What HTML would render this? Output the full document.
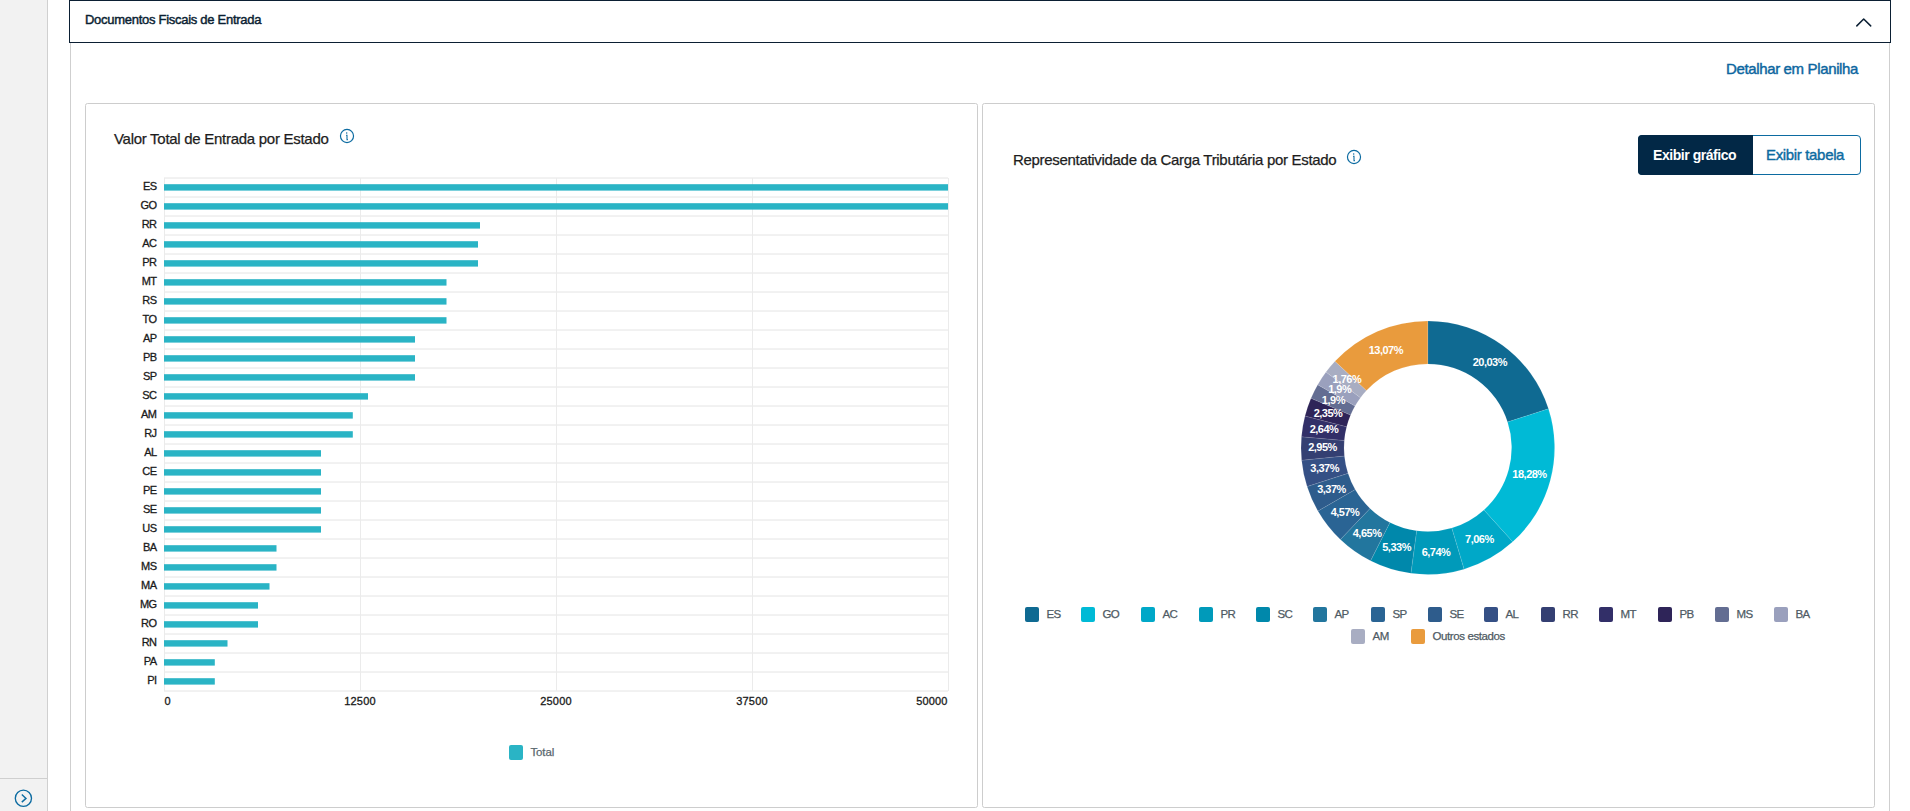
<!DOCTYPE html>
<html><head><meta charset="utf-8"><title>Documentos Fiscais de Entrada</title>
<style>
html,body{margin:0;padding:0;}
body{width:1910px;height:811px;overflow:hidden;position:relative;background:#fff;font-family:'Liberation Sans',sans-serif;}
.a{position:absolute;}
.t{position:absolute;white-space:nowrap;line-height:1;}
</style></head><body>

<div class="a" style="left:0;top:0;width:47px;height:811px;background:#f2f2f2;border-right:1px solid #d0d0d0;"></div>
<div class="a" style="left:0;top:778px;width:47px;height:1px;background:#cfcfcf;"></div>
<svg class="a" style="left:13px;top:788px;" width="21" height="21" viewBox="0 0 21 21"><circle cx="10.4" cy="10.3" r="8.1" fill="none" stroke="#0c6ba1" stroke-width="1.35"/><path d="M8.8 6.5 L13 10.4 L8.8 14.1" fill="none" stroke="#0c6ba1" stroke-width="1.4"/></svg>
<div class="a" style="left:70px;top:43px;width:1px;height:768px;background:#cfcfcf;"></div>
<div class="a" style="left:1889px;top:43px;width:1px;height:768px;background:#cfcfcf;"></div>
<div class="a" style="left:69px;top:0;width:1822px;height:43px;box-sizing:border-box;border:1px solid #0b1f33;background:#fff;"></div>
<div class="t" style="left:85px;top:13px;font-size:13px;color:#0b1f33;letter-spacing:-0.28px;-webkit-text-stroke-width:0.45px;">Documentos Fiscais de Entrada</div>
<svg class="a" style="left:1854.7px;top:16.5px;" width="19" height="12" viewBox="0 0 19 12"><path d="M1.8 8.9 L8.7 2.0 L15.7 8.9" fill="none" stroke="#0b1f33" stroke-width="1.5" stroke-linecap="round" stroke-linejoin="round"/></svg>
<div class="t" style="left:1726px;top:61px;font-size:15px;color:#0b66a0;letter-spacing:-0.36px;-webkit-text-stroke-width:0.42px;">Detalhar em Planilha</div>
<div class="a" style="left:85px;top:103px;width:893px;height:705px;box-sizing:border-box;border:1px solid #cdcdcd;border-radius:2.5px;"></div>
<div class="a" style="left:982px;top:103px;width:893px;height:705px;box-sizing:border-box;border:1px solid #cdcdcd;border-radius:2.5px;"></div>
<div class="t" style="left:114px;top:131px;font-size:15px;color:#1d1d1d;letter-spacing:-0.28px;-webkit-text-stroke-width:0.25px;">Valor Total de Entrada por Estado</div>
<svg class="a" style="left:338px;top:127.3px;" width="18" height="18" viewBox="0 0 18 18"><circle cx="9" cy="9" r="6.55" fill="none" stroke="#0c6ba1" stroke-width="1.2"/><circle cx="8.7" cy="6.0" r="0.75" fill="#0c6ba1"/><path d="M8.0 8.2 H9.0 V12.6 H9.9" fill="none" stroke="#0c6ba1" stroke-width="1.05"/></svg>
<svg class="a" style="left:0;top:0;" width="1910" height="811"><line x1="164" y1="178" x2="948" y2="178" stroke="#e4e4e4" stroke-width="1"/><line x1="164" y1="197" x2="948" y2="197" stroke="#e4e4e4" stroke-width="1"/><line x1="164" y1="216" x2="948" y2="216" stroke="#e4e4e4" stroke-width="1"/><line x1="164" y1="235" x2="948" y2="235" stroke="#e4e4e4" stroke-width="1"/><line x1="164" y1="254" x2="948" y2="254" stroke="#e4e4e4" stroke-width="1"/><line x1="164" y1="273" x2="948" y2="273" stroke="#e4e4e4" stroke-width="1"/><line x1="164" y1="292" x2="948" y2="292" stroke="#e4e4e4" stroke-width="1"/><line x1="164" y1="311" x2="948" y2="311" stroke="#e4e4e4" stroke-width="1"/><line x1="164" y1="330" x2="948" y2="330" stroke="#e4e4e4" stroke-width="1"/><line x1="164" y1="349" x2="948" y2="349" stroke="#e4e4e4" stroke-width="1"/><line x1="164" y1="368" x2="948" y2="368" stroke="#e4e4e4" stroke-width="1"/><line x1="164" y1="387" x2="948" y2="387" stroke="#e4e4e4" stroke-width="1"/><line x1="164" y1="406" x2="948" y2="406" stroke="#e4e4e4" stroke-width="1"/><line x1="164" y1="425" x2="948" y2="425" stroke="#e4e4e4" stroke-width="1"/><line x1="164" y1="444" x2="948" y2="444" stroke="#e4e4e4" stroke-width="1"/><line x1="164" y1="463" x2="948" y2="463" stroke="#e4e4e4" stroke-width="1"/><line x1="164" y1="482" x2="948" y2="482" stroke="#e4e4e4" stroke-width="1"/><line x1="164" y1="501" x2="948" y2="501" stroke="#e4e4e4" stroke-width="1"/><line x1="164" y1="520" x2="948" y2="520" stroke="#e4e4e4" stroke-width="1"/><line x1="164" y1="539" x2="948" y2="539" stroke="#e4e4e4" stroke-width="1"/><line x1="164" y1="558" x2="948" y2="558" stroke="#e4e4e4" stroke-width="1"/><line x1="164" y1="577" x2="948" y2="577" stroke="#e4e4e4" stroke-width="1"/><line x1="164" y1="596" x2="948" y2="596" stroke="#e4e4e4" stroke-width="1"/><line x1="164" y1="615" x2="948" y2="615" stroke="#e4e4e4" stroke-width="1"/><line x1="164" y1="634" x2="948" y2="634" stroke="#e4e4e4" stroke-width="1"/><line x1="164" y1="653" x2="948" y2="653" stroke="#e4e4e4" stroke-width="1"/><line x1="164" y1="672" x2="948" y2="672" stroke="#e4e4e4" stroke-width="1"/><line x1="164" y1="691" x2="948" y2="691" stroke="#e4e4e4" stroke-width="1"/><line x1="164.5" y1="178" x2="164.5" y2="691" stroke="#ebebeb" stroke-width="1"/><line x1="360.5" y1="178" x2="360.5" y2="691" stroke="#ebebeb" stroke-width="1"/><line x1="556.5" y1="178" x2="556.5" y2="691" stroke="#ebebeb" stroke-width="1"/><line x1="752.5" y1="178" x2="752.5" y2="691" stroke="#ebebeb" stroke-width="1"/><line x1="948.5" y1="178" x2="948.5" y2="691" stroke="#ebebeb" stroke-width="1"/><rect x="164" y="184.2" width="784" height="6.4" fill="#2ab4c5"/><rect x="164" y="203.2" width="784" height="6.4" fill="#2ab4c5"/><rect x="164" y="222.2" width="316" height="6.4" fill="#2ab4c5"/><rect x="164" y="241.2" width="314" height="6.4" fill="#2ab4c5"/><rect x="164" y="260.2" width="314" height="6.4" fill="#2ab4c5"/><rect x="164" y="279.2" width="282.5" height="6.4" fill="#2ab4c5"/><rect x="164" y="298.2" width="282.5" height="6.4" fill="#2ab4c5"/><rect x="164" y="317.2" width="282.5" height="6.4" fill="#2ab4c5"/><rect x="164" y="336.2" width="251" height="6.4" fill="#2ab4c5"/><rect x="164" y="355.2" width="251" height="6.4" fill="#2ab4c5"/><rect x="164" y="374.2" width="251" height="6.4" fill="#2ab4c5"/><rect x="164" y="393.2" width="204" height="6.4" fill="#2ab4c5"/><rect x="164" y="412.2" width="188.8" height="6.4" fill="#2ab4c5"/><rect x="164" y="431.2" width="188.8" height="6.4" fill="#2ab4c5"/><rect x="164" y="450.2" width="157" height="6.4" fill="#2ab4c5"/><rect x="164" y="469.2" width="157" height="6.4" fill="#2ab4c5"/><rect x="164" y="488.2" width="157" height="6.4" fill="#2ab4c5"/><rect x="164" y="507.2" width="157" height="6.4" fill="#2ab4c5"/><rect x="164" y="526.2" width="157" height="6.4" fill="#2ab4c5"/><rect x="164" y="545.2" width="112.5" height="6.4" fill="#2ab4c5"/><rect x="164" y="564.2" width="112.5" height="6.4" fill="#2ab4c5"/><rect x="164" y="583.2" width="105.5" height="6.4" fill="#2ab4c5"/><rect x="164" y="602.2" width="94" height="6.4" fill="#2ab4c5"/><rect x="164" y="621.2" width="94" height="6.4" fill="#2ab4c5"/><rect x="164" y="640.2" width="63.5" height="6.4" fill="#2ab4c5"/><rect x="164" y="659.2" width="50.8" height="6.4" fill="#2ab4c5"/><rect x="164" y="678.2" width="50.8" height="6.4" fill="#2ab4c5"/></svg>
<div class="t" style="right:1753.6px;top:181.0px;font-size:11px;color:#1a1a1a;-webkit-text-stroke-width:0.3px;letter-spacing:-0.6px;">ES</div>
<div class="t" style="right:1753.6px;top:200.0px;font-size:11px;color:#1a1a1a;-webkit-text-stroke-width:0.3px;letter-spacing:-0.6px;">GO</div>
<div class="t" style="right:1753.6px;top:219.0px;font-size:11px;color:#1a1a1a;-webkit-text-stroke-width:0.3px;letter-spacing:-0.6px;">RR</div>
<div class="t" style="right:1753.6px;top:238.0px;font-size:11px;color:#1a1a1a;-webkit-text-stroke-width:0.3px;letter-spacing:-0.6px;">AC</div>
<div class="t" style="right:1753.6px;top:257.0px;font-size:11px;color:#1a1a1a;-webkit-text-stroke-width:0.3px;letter-spacing:-0.6px;">PR</div>
<div class="t" style="right:1753.6px;top:276.0px;font-size:11px;color:#1a1a1a;-webkit-text-stroke-width:0.3px;letter-spacing:-0.6px;">MT</div>
<div class="t" style="right:1753.6px;top:295.0px;font-size:11px;color:#1a1a1a;-webkit-text-stroke-width:0.3px;letter-spacing:-0.6px;">RS</div>
<div class="t" style="right:1753.6px;top:314.0px;font-size:11px;color:#1a1a1a;-webkit-text-stroke-width:0.3px;letter-spacing:-0.6px;">TO</div>
<div class="t" style="right:1753.6px;top:333.0px;font-size:11px;color:#1a1a1a;-webkit-text-stroke-width:0.3px;letter-spacing:-0.6px;">AP</div>
<div class="t" style="right:1753.6px;top:352.0px;font-size:11px;color:#1a1a1a;-webkit-text-stroke-width:0.3px;letter-spacing:-0.6px;">PB</div>
<div class="t" style="right:1753.6px;top:371.0px;font-size:11px;color:#1a1a1a;-webkit-text-stroke-width:0.3px;letter-spacing:-0.6px;">SP</div>
<div class="t" style="right:1753.6px;top:390.0px;font-size:11px;color:#1a1a1a;-webkit-text-stroke-width:0.3px;letter-spacing:-0.6px;">SC</div>
<div class="t" style="right:1753.6px;top:409.0px;font-size:11px;color:#1a1a1a;-webkit-text-stroke-width:0.3px;letter-spacing:-0.6px;">AM</div>
<div class="t" style="right:1753.6px;top:428.0px;font-size:11px;color:#1a1a1a;-webkit-text-stroke-width:0.3px;letter-spacing:-0.6px;">RJ</div>
<div class="t" style="right:1753.6px;top:447.0px;font-size:11px;color:#1a1a1a;-webkit-text-stroke-width:0.3px;letter-spacing:-0.6px;">AL</div>
<div class="t" style="right:1753.6px;top:466.0px;font-size:11px;color:#1a1a1a;-webkit-text-stroke-width:0.3px;letter-spacing:-0.6px;">CE</div>
<div class="t" style="right:1753.6px;top:485.0px;font-size:11px;color:#1a1a1a;-webkit-text-stroke-width:0.3px;letter-spacing:-0.6px;">PE</div>
<div class="t" style="right:1753.6px;top:504.0px;font-size:11px;color:#1a1a1a;-webkit-text-stroke-width:0.3px;letter-spacing:-0.6px;">SE</div>
<div class="t" style="right:1753.6px;top:523.0px;font-size:11px;color:#1a1a1a;-webkit-text-stroke-width:0.3px;letter-spacing:-0.6px;">US</div>
<div class="t" style="right:1753.6px;top:542.0px;font-size:11px;color:#1a1a1a;-webkit-text-stroke-width:0.3px;letter-spacing:-0.6px;">BA</div>
<div class="t" style="right:1753.6px;top:561.0px;font-size:11px;color:#1a1a1a;-webkit-text-stroke-width:0.3px;letter-spacing:-0.6px;">MS</div>
<div class="t" style="right:1753.6px;top:580.0px;font-size:11px;color:#1a1a1a;-webkit-text-stroke-width:0.3px;letter-spacing:-0.6px;">MA</div>
<div class="t" style="right:1753.6px;top:599.0px;font-size:11px;color:#1a1a1a;-webkit-text-stroke-width:0.3px;letter-spacing:-0.6px;">MG</div>
<div class="t" style="right:1753.6px;top:618.0px;font-size:11px;color:#1a1a1a;-webkit-text-stroke-width:0.3px;letter-spacing:-0.6px;">RO</div>
<div class="t" style="right:1753.6px;top:637.0px;font-size:11px;color:#1a1a1a;-webkit-text-stroke-width:0.3px;letter-spacing:-0.6px;">RN</div>
<div class="t" style="right:1753.6px;top:656.0px;font-size:11px;color:#1a1a1a;-webkit-text-stroke-width:0.3px;letter-spacing:-0.6px;">PA</div>
<div class="t" style="right:1753.6px;top:675.0px;font-size:11px;color:#1a1a1a;-webkit-text-stroke-width:0.3px;letter-spacing:-0.6px;">PI</div>
<div class="t" style="left:164.6px;top:696px;font-size:11px;color:#1a1a1a;-webkit-text-stroke-width:0.3px;letter-spacing:0.15px;">0</div>
<div class="t" style="left:320px;width:80px;text-align:center;top:696px;font-size:11px;color:#1a1a1a;-webkit-text-stroke-width:0.3px;letter-spacing:0.15px;">12500</div>
<div class="t" style="left:516px;width:80px;text-align:center;top:696px;font-size:11px;color:#1a1a1a;-webkit-text-stroke-width:0.3px;letter-spacing:0.15px;">25000</div>
<div class="t" style="left:712px;width:80px;text-align:center;top:696px;font-size:11px;color:#1a1a1a;-webkit-text-stroke-width:0.3px;letter-spacing:0.15px;">37500</div>
<div class="t" style="right:962.5px;top:696px;font-size:11px;color:#1a1a1a;-webkit-text-stroke-width:0.3px;letter-spacing:0.15px;">50000</div>
<div class="a" style="left:509px;top:745px;width:14px;height:15px;background:#2ab4c5;border-radius:2px;"></div>
<div class="t" style="left:530.5px;top:747.2px;font-size:11.5px;color:#5a676e;letter-spacing:-0.15px;-webkit-text-stroke-width:0.25px;">Total</div>
<div class="t" style="left:1013px;top:152px;font-size:15px;color:#1d1d1d;letter-spacing:-0.31px;-webkit-text-stroke-width:0.25px;">Representatividade da Carga Tributária por Estado</div>
<svg class="a" style="left:1345px;top:148.3px;" width="18" height="18" viewBox="0 0 18 18"><circle cx="9" cy="9" r="6.55" fill="none" stroke="#0c6ba1" stroke-width="1.2"/><circle cx="8.7" cy="6.0" r="0.75" fill="#0c6ba1"/><path d="M8.0 8.2 H9.0 V12.6 H9.9" fill="none" stroke="#0c6ba1" stroke-width="1.05"/></svg>
<div class="a" style="left:1638px;top:135px;width:223px;height:40px;box-sizing:border-box;border:1px solid #0c6ba1;border-radius:4px;background:#fff;"></div>
<div class="a" style="left:1638px;top:135px;width:115px;height:40px;background:#022846;border-radius:4px 0 0 4px;"></div>
<div class="t" style="left:1653px;top:147.7px;font-size:14px;color:#fff;font-weight:bold;letter-spacing:-0.45px;">Exibir gráfico</div>
<div class="t" style="left:1766px;top:147px;font-size:15px;color:#0c6ba1;letter-spacing:-0.34px;-webkit-text-stroke-width:0.4px;">Exibir tabela</div>
<svg class="a" style="left:0;top:0;" width="1910" height="811"><path d="M1427.80 320.90 A126.8 126.8 0 0 1 1548.48 408.79 L1507.56 421.98 A83.8 83.8 0 0 0 1427.80 363.90Z" fill="#0f6a92" stroke="rgba(255,255,255,0.2)" stroke-width="0.5"/><path d="M1548.48 408.79 A126.8 126.8 0 0 1 1512.72 541.87 L1483.92 509.93 A83.8 83.8 0 0 0 1507.56 421.98Z" fill="#00bad6" stroke="rgba(255,255,255,0.2)" stroke-width="0.5"/><path d="M1512.72 541.87 A126.8 126.8 0 0 1 1464.07 569.20 L1451.77 528.00 A83.8 83.8 0 0 0 1483.92 509.93Z" fill="#00a8c8" stroke="rgba(255,255,255,0.2)" stroke-width="0.5"/><path d="M1464.07 569.20 A126.8 126.8 0 0 1 1410.92 573.37 L1416.64 530.75 A83.8 83.8 0 0 0 1451.77 528.00Z" fill="#009aba" stroke="rgba(255,255,255,0.2)" stroke-width="0.5"/><path d="M1410.92 573.37 A126.8 126.8 0 0 1 1370.54 560.83 L1389.96 522.47 A83.8 83.8 0 0 0 1416.64 530.75Z" fill="#0088ab" stroke="rgba(255,255,255,0.2)" stroke-width="0.5"/><path d="M1370.54 560.83 A126.8 126.8 0 0 1 1340.37 539.54 L1370.02 508.39 A83.8 83.8 0 0 0 1389.96 522.47Z" fill="#22769e" stroke="rgba(255,255,255,0.2)" stroke-width="0.5"/><path d="M1340.37 539.54 A126.8 126.8 0 0 1 1317.93 511.01 L1355.19 489.54 A83.8 83.8 0 0 0 1370.02 508.39Z" fill="#2a6494" stroke="rgba(255,255,255,0.2)" stroke-width="0.5"/><path d="M1317.93 511.01 A126.8 126.8 0 0 1 1307.08 486.50 L1348.02 473.34 A83.8 83.8 0 0 0 1355.19 489.54Z" fill="#2e5c8c" stroke="rgba(255,255,255,0.2)" stroke-width="0.5"/><path d="M1307.08 486.50 A126.8 126.8 0 0 1 1301.62 460.25 L1344.41 455.99 A83.8 83.8 0 0 0 1348.02 473.34Z" fill="#355085" stroke="rgba(255,255,255,0.2)" stroke-width="0.5"/><path d="M1301.62 460.25 A126.8 126.8 0 0 1 1301.47 436.78 L1344.31 440.48 A83.8 83.8 0 0 0 1344.41 455.99Z" fill="#343f72" stroke="rgba(255,255,255,0.2)" stroke-width="0.5"/><path d="M1301.47 436.78 A126.8 126.8 0 0 1 1305.01 416.06 L1346.65 426.79 A83.8 83.8 0 0 0 1344.31 440.48Z" fill="#322f68" stroke="rgba(255,255,255,0.2)" stroke-width="0.5"/><path d="M1305.01 416.06 A126.8 126.8 0 0 1 1311.00 398.33 L1350.61 415.08 A83.8 83.8 0 0 0 1346.65 426.79Z" fill="#2e2458" stroke="rgba(255,255,255,0.2)" stroke-width="0.5"/><path d="M1311.00 398.33 A126.8 126.8 0 0 1 1317.72 384.77 L1355.05 406.11 A83.8 83.8 0 0 0 1350.61 415.08Z" fill="#636d92" stroke="rgba(255,255,255,0.2)" stroke-width="0.5"/><path d="M1317.72 384.77 A126.8 126.8 0 0 1 1326.00 372.11 L1360.52 397.74 A83.8 83.8 0 0 0 1355.05 406.11Z" fill="#9aa0bd" stroke="rgba(255,255,255,0.2)" stroke-width="0.5"/><path d="M1326.00 372.11 A126.8 126.8 0 0 1 1334.96 361.33 L1366.45 390.62 A83.8 83.8 0 0 0 1360.52 397.74Z" fill="#a8adc2" stroke="rgba(255,255,255,0.2)" stroke-width="0.5"/><path d="M1334.96 361.33 A126.8 126.8 0 0 1 1427.80 320.90 L1427.80 363.90 A83.8 83.8 0 0 0 1366.45 390.62Z" fill="#e99b3d" stroke="rgba(255,255,255,0.2)" stroke-width="0.5"/></svg>
<div class="t" style="left:1459.8px;width:60px;text-align:center;top:356.6px;font-size:11px;color:#fff;font-weight:bold;letter-spacing:-0.5px;">20,03%</div>
<div class="t" style="left:1499.5px;width:60px;text-align:center;top:469.0px;font-size:11px;color:#fff;font-weight:bold;letter-spacing:-0.5px;">18,28%</div>
<div class="t" style="left:1449.4px;width:60px;text-align:center;top:533.5px;font-size:11px;color:#fff;font-weight:bold;letter-spacing:-0.5px;">7,06%</div>
<div class="t" style="left:1406.0px;width:60px;text-align:center;top:546.7px;font-size:11px;color:#fff;font-weight:bold;letter-spacing:-0.5px;">6,74%</div>
<div class="t" style="left:1366.6px;width:60px;text-align:center;top:542.3px;font-size:11px;color:#fff;font-weight:bold;letter-spacing:-0.5px;">5,33%</div>
<div class="t" style="left:1337.1px;width:60px;text-align:center;top:527.7px;font-size:11px;color:#fff;font-weight:bold;letter-spacing:-0.5px;">4,65%</div>
<div class="t" style="left:1315.0px;width:60px;text-align:center;top:506.8px;font-size:11px;color:#fff;font-weight:bold;letter-spacing:-0.5px;">4,57%</div>
<div class="t" style="left:1301.5px;width:60px;text-align:center;top:484.3px;font-size:11px;color:#fff;font-weight:bold;letter-spacing:-0.5px;">3,37%</div>
<div class="t" style="left:1294.7px;width:60px;text-align:center;top:463.1px;font-size:11px;color:#fff;font-weight:bold;letter-spacing:-0.5px;">3,37%</div>
<div class="t" style="left:1292.5px;width:60px;text-align:center;top:442.4px;font-size:11px;color:#fff;font-weight:bold;letter-spacing:-0.5px;">2,95%</div>
<div class="t" style="left:1294.0px;width:60px;text-align:center;top:424.0px;font-size:11px;color:#fff;font-weight:bold;letter-spacing:-0.5px;">2,64%</div>
<div class="t" style="left:1298.0px;width:60px;text-align:center;top:408.0px;font-size:11px;color:#fff;font-weight:bold;letter-spacing:-0.5px;">2,35%</div>
<div class="t" style="left:1303.4px;width:60px;text-align:center;top:395.0px;font-size:11px;color:#fff;font-weight:bold;letter-spacing:-0.5px;">1,9%</div>
<div class="t" style="left:1309.7px;width:60px;text-align:center;top:384.1px;font-size:11px;color:#fff;font-weight:bold;letter-spacing:-0.5px;">1,9%</div>
<div class="t" style="left:1316.9px;width:60px;text-align:center;top:374.3px;font-size:11px;color:#fff;font-weight:bold;letter-spacing:-0.5px;">1,76%</div>
<div class="t" style="left:1355.8px;width:60px;text-align:center;top:345.2px;font-size:11px;color:#fff;font-weight:bold;letter-spacing:-0.5px;">13,07%</div>
<div class="a" style="left:1025px;top:607px;width:14px;height:15px;background:#0f6a92;border-radius:2px;"></div>
<div class="t" style="left:1046.6px;top:609.2px;font-size:11.5px;color:#4f5b64;letter-spacing:-0.7px;-webkit-text-stroke-width:0.25px;">ES</div>
<div class="a" style="left:1081px;top:607px;width:14px;height:15px;background:#00bad6;border-radius:2px;"></div>
<div class="t" style="left:1102.6px;top:609.2px;font-size:11.5px;color:#4f5b64;letter-spacing:-0.7px;-webkit-text-stroke-width:0.25px;">GO</div>
<div class="a" style="left:1141px;top:607px;width:14px;height:15px;background:#00a8c8;border-radius:2px;"></div>
<div class="t" style="left:1162.6px;top:609.2px;font-size:11.5px;color:#4f5b64;letter-spacing:-0.7px;-webkit-text-stroke-width:0.25px;">AC</div>
<div class="a" style="left:1199px;top:607px;width:14px;height:15px;background:#009aba;border-radius:2px;"></div>
<div class="t" style="left:1220.6px;top:609.2px;font-size:11.5px;color:#4f5b64;letter-spacing:-0.7px;-webkit-text-stroke-width:0.25px;">PR</div>
<div class="a" style="left:1256px;top:607px;width:14px;height:15px;background:#0088ab;border-radius:2px;"></div>
<div class="t" style="left:1277.6px;top:609.2px;font-size:11.5px;color:#4f5b64;letter-spacing:-0.7px;-webkit-text-stroke-width:0.25px;">SC</div>
<div class="a" style="left:1313px;top:607px;width:14px;height:15px;background:#22769e;border-radius:2px;"></div>
<div class="t" style="left:1334.6px;top:609.2px;font-size:11.5px;color:#4f5b64;letter-spacing:-0.7px;-webkit-text-stroke-width:0.25px;">AP</div>
<div class="a" style="left:1371px;top:607px;width:14px;height:15px;background:#2a6494;border-radius:2px;"></div>
<div class="t" style="left:1392.6px;top:609.2px;font-size:11.5px;color:#4f5b64;letter-spacing:-0.7px;-webkit-text-stroke-width:0.25px;">SP</div>
<div class="a" style="left:1428px;top:607px;width:14px;height:15px;background:#2e5c8c;border-radius:2px;"></div>
<div class="t" style="left:1449.6px;top:609.2px;font-size:11.5px;color:#4f5b64;letter-spacing:-0.7px;-webkit-text-stroke-width:0.25px;">SE</div>
<div class="a" style="left:1484px;top:607px;width:14px;height:15px;background:#355085;border-radius:2px;"></div>
<div class="t" style="left:1505.6px;top:609.2px;font-size:11.5px;color:#4f5b64;letter-spacing:-0.7px;-webkit-text-stroke-width:0.25px;">AL</div>
<div class="a" style="left:1541px;top:607px;width:14px;height:15px;background:#343f72;border-radius:2px;"></div>
<div class="t" style="left:1562.6px;top:609.2px;font-size:11.5px;color:#4f5b64;letter-spacing:-0.7px;-webkit-text-stroke-width:0.25px;">RR</div>
<div class="a" style="left:1599px;top:607px;width:14px;height:15px;background:#322f68;border-radius:2px;"></div>
<div class="t" style="left:1620.6px;top:609.2px;font-size:11.5px;color:#4f5b64;letter-spacing:-0.7px;-webkit-text-stroke-width:0.25px;">MT</div>
<div class="a" style="left:1658px;top:607px;width:14px;height:15px;background:#2e2458;border-radius:2px;"></div>
<div class="t" style="left:1679.6px;top:609.2px;font-size:11.5px;color:#4f5b64;letter-spacing:-0.7px;-webkit-text-stroke-width:0.25px;">PB</div>
<div class="a" style="left:1715px;top:607px;width:14px;height:15px;background:#636d92;border-radius:2px;"></div>
<div class="t" style="left:1736.6px;top:609.2px;font-size:11.5px;color:#4f5b64;letter-spacing:-0.7px;-webkit-text-stroke-width:0.25px;">MS</div>
<div class="a" style="left:1774px;top:607px;width:14px;height:15px;background:#9aa0bd;border-radius:2px;"></div>
<div class="t" style="left:1795.6px;top:609.2px;font-size:11.5px;color:#4f5b64;letter-spacing:-0.7px;-webkit-text-stroke-width:0.25px;">BA</div>
<div class="a" style="left:1351px;top:629px;width:14px;height:15px;background:#a8adc2;border-radius:2px;"></div>
<div class="t" style="left:1372.5px;top:631.2px;font-size:11.5px;color:#4f5b64;letter-spacing:-0.4px;-webkit-text-stroke-width:0.25px;">AM</div>
<div class="a" style="left:1411px;top:629px;width:14px;height:15px;background:#e99b3d;border-radius:2px;"></div>
<div class="t" style="left:1432.5px;top:631.2px;font-size:11.5px;color:#4f5b64;letter-spacing:-0.4px;-webkit-text-stroke-width:0.25px;">Outros estados</div>
</body></html>
